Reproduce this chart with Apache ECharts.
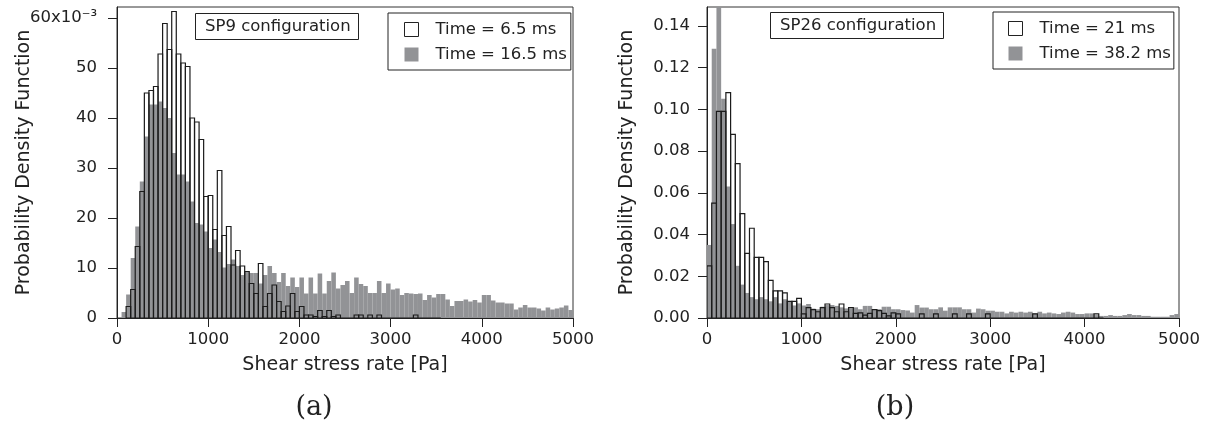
<!DOCTYPE html>
<html>
<head>
<meta charset="utf-8">
<script src="https://cdn.jsdelivr.net/npm/echarts@6/dist/echarts.min.js"></script>
<style>
  html, body { margin: 0; padding: 0; background: #fff; }
  #chart { width: 1207px; height: 430px; }
</style>
</head>
<body>
<div id="chart"></div>
<script>
// histogram bins are 50 Pa wide, starting at 0
const binWidth = 50

// (a) SP9 configuration, PDF values in units of 1e-3
const sp9Early = [ // Time = 6.5 ms
  null, null, 2.3, 5.7, 14.3, 25.3, 45, 45.5, 46.3, 52.8,
  58.9, 53.7, 61.3, 52.8, 51, 50.3, 40, 39.2, 35.7, 24.3,
  24.5, 17.7, 29.5, 16.5, 18.3, 10.6, 13.5, 10.4, 9.3, 6.9,
  4.9, 10.9, 2.3, 4.9, 6.6, 3.3, 1.3, 2.4, 4.9, 1.3,
  2.3, 0.6, 0.6, 0.3, 1.5, 0.3, 1.5, 0.3, 0.6, 0,
  0, 0, 0.6, 0.6, 0, 0.6, 0, 0.6, 0, 0,
  0, 0, 0, 0, 0, 0.6, 0, 0, 0, 0, 0
]
const sp9Late = [ // Time = 16.5 ms
  0, 1.2, 4.7, 12, 18.3, 27.3, 36.3, 42.7, 42.7, 43.3,
  42, 40, 33, 28.7, 28.7, 27.3, 23.3, 19, 18.7, 17.3,
  14, 15.7, 13.2, 10.1, 10.8, 11.7, 10.4, 8.6, 9.2, 9,
  9, 6.9, 8.6, 10.4, 9, 7.2, 9, 6.4, 8.1, 6.2,
  8.1, 4.9, 8.1, 4.9, 8.9, 4.9, 7.4, 9.1, 5.9, 6.6,
  7.4, 5.0, 8.1, 6.8, 6.4, 5.0, 5.0, 7.4, 5.0, 6.9,
  5.7, 5.9, 4.6, 5.0, 4.9, 4.8, 4.9, 3.6, 4.6, 4.1,
  4.8, 4.8, 3.7, 2.4, 3.4, 3.4, 3.7, 3.3, 3.6, 3.1,
  4.6, 4.6, 3.5, 3.1, 3.1, 2.9, 2.9, 1.7, 2.1, 2.6,
  2.1, 2.1, 1.9, 1.5, 2.1, 1.7, 1.9, 2.1, 2.5, 1.6
]

// (b) SP26 configuration
const sp26Early = [ // Time = 21 ms
  0.025, 0.055, 0.099, 0.099, 0.108, 0.088, 0.074, 0.050, 0.031, 0.043,
  0.029, 0.029, 0.027, 0.018, 0.013, 0.013, 0.012, 0.008, 0.008, 0.0094,
  0.002, 0.005, 0.004, 0.003, 0.005, 0.0067, 0.005, 0.003, 0.0067, 0.003,
  0.005, 0.0022, 0.0025, 0.0014, 0.0022, 0.004, 0.0035, 0.0022, 0.001, 0.0025,
  0.002, 0, 0, 0, 0, 0.002, 0, 0, 0.002, 0,
  0, 0, 0.002, 0, 0, 0.002, 0, 0, 0, 0.002,
  0, 0, 0, 0, 0, 0, 0, 0, 0, 0.002,
  0, 0, 0, 0, 0, 0, 0, 0, 0, 0,
  0, 0, 0.002, 0
]
const sp26Late = [ // Time = 38.2 ms
  0.035, 0.129, 0.16, 0.105, 0.063, 0.045, 0.025, 0.016, 0.012, 0.010,
  0.009, 0.010, 0.009, 0.008, 0.010, 0.007, 0.009, 0.008, 0.006, 0.007,
  0.006, 0.0067, 0.0045, 0.0042, 0.0054, 0.0062, 0.0062, 0.0058, 0.0051, 0.0046,
  0.0046, 0.0051, 0.0042, 0.0058, 0.0058, 0.0038, 0.0042, 0.0054, 0.0054, 0.0042,
  0.0042, 0.0038, 0.0036, 0.0026, 0.0062, 0.005, 0.005, 0.0042, 0.0042, 0.0051,
  0.0035, 0.0051, 0.0051, 0.0051, 0.0042, 0.0042, 0.0026, 0.0045, 0.0042, 0.0035,
  0.0035, 0.003, 0.003, 0.0022, 0.003, 0.0026, 0.003, 0.0026, 0.003, 0.0022,
  0.003, 0.0022, 0.0026, 0.0022, 0.0019, 0.0026, 0.003, 0.0026, 0.0019, 0.0019,
  0.0022, 0.0022, 0.0014, 0.001, 0.001, 0.0014, 0.001, 0.001, 0.0014, 0.0019,
  0.0014, 0.0014, 0.001, 0.001, 0.0006, 0.0006, 0.0006, 0.0006, 0.0014, 0.0019
]

const seriesNames = ['Time = 6.5 ms', 'Time = 16.5 ms', 'Time = 21 ms', 'Time = 38.2 ms']
const panelTitles = ['SP9 configuration', 'SP26 configuration']
const panelCaptions = ['(a)', '(b)']

const ink = '#222'
const grayFill = '#929396'
const sans = 'DejaVu Sans'

// turn a list of bin heights into [start, end, value] rows
function toBins(values) {
  const rows = []
  values.forEach((v, i) => {
    if (v !== null) rows.push([i * binWidth, (i + 1) * binWidth, v])
  })
  return rows
}

function binRect(api) {
  const top = api.coord([api.value(0), api.value(2)])
  const base = api.coord([api.value(1), 0])
  return { x: top[0], y: top[1], width: base[0] - top[0], height: base[1] - top[1] }
}

function filledBars(params, api) {
  return { type: 'rect', shape: binRect(api), style: { fill: grayFill } }
}

function outlinedBars(params, api) {
  return { type: 'rect', shape: binRect(api), style: { fill: 'none', stroke: '#1b1b1b', lineWidth: 1.2 } }
}

function histSeries(name, values, idx, outlined) {
  return {
    name: name,
    type: 'custom',
    xAxisIndex: idx,
    yAxisIndex: idx,
    clip: true,
    itemStyle: { color: outlined ? '#fff' : grayFill },
    renderItem: outlined ? outlinedBars : filledBars,
    encode: { x: [0, 1], y: 2 },
    data: toBins(values),
    z: outlined ? 3 : 2
  }
}

function xAxisFor(idx) {
  return {
    gridIndex: idx,
    type: 'value',
    min: 0,
    max: 5000,
    interval: 1000,
    name: 'Shear stress rate [Pa]',
    nameLocation: 'middle',
    nameGap: 38,
    nameMoveOverlap: false,
    nameTextStyle: { fontFamily: sans, fontSize: 19, color: ink },
    axisLine: { onZero: false, lineStyle: { color: ink, width: 1 } },
    axisTick: { length: 9, lineStyle: { color: ink } },
    axisLabel: { margin: 13, fontFamily: sans, fontSize: 16.5, color: ink, formatter: v => String(v) },
    splitLine: { show: false }
  }
}

function yAxisFor(idx, max, interval, gap, margin, formatter) {
  return {
    gridIndex: idx,
    type: 'value',
    min: 0,
    max: max,
    interval: interval,
    name: 'Probability Density Function',
    nameLocation: 'middle',
    nameGap: gap,
    nameMoveOverlap: false,
    nameTextStyle: { fontFamily: sans, fontSize: 19, color: ink },
    axisLine: { show: true, lineStyle: { color: ink, width: 1 } },
    axisTick: { show: true, length: 9, lineStyle: { color: ink } },
    axisLabel: { margin: margin, showMaxLabel: false, fontFamily: sans, fontSize: 16.5, color: ink, formatter: formatter },
    splitLine: { show: false }
  }
}

function legendFor(names, left, top, pad) {
  return {
    orient: 'vertical',
    left: left,
    top: top,
    selectedMode: false,
    borderColor: ink,
    borderWidth: 1,
    padding: pad,
    itemWidth: 14,
    itemHeight: 14,
    itemGap: 8,
    textStyle: { fontFamily: sans, fontSize: 16.5, color: ink, padding: [0, 0, 0, 12] },
    data: [
      { name: names[0], icon: 'rect', itemStyle: { color: '#fff', borderColor: ink, borderWidth: 1 } },
      { name: names[1], icon: 'rect', itemStyle: { color: grayFill, borderWidth: 0 } }
    ]
  }
}

function boxTitle(text, left, top) {
  return {
    text: text,
    left: left,
    top: top,
    borderColor: ink,
    borderWidth: 1,
    padding: [5, 8, 5, 10],
    textStyle: { fontFamily: sans, fontSize: 16.5, fontWeight: 'normal', color: ink }
  }
}

const chart = echarts.init(document.getElementById('chart'), null, { renderer: 'canvas' })

const option = {
  backgroundColor: '#fff',
  animation: false,
  title: [
    boxTitle(panelTitles[0], 195, 13),
    boxTitle(panelTitles[1], 770, 12)
  ],
  legend: [
    legendFor(seriesNames.slice(0, 2), 388, 13, [8, 4, 7, 16]),
    legendFor(seriesNames.slice(2, 4), 993, 12, [8, 3, 7, 15])
  ],
  grid: [
    { left: 117, top: 7, width: 456, height: 311, show: true, borderColor: '#333', borderWidth: 1 },
    { left: 707, top: 7, width: 472, height: 311, show: true, borderColor: '#333', borderWidth: 1 }
  ],
  xAxis: [xAxisFor(0), xAxisFor(1)],
  yAxis: [
    yAxisFor(0, 62.2, 10, 83, 20, v => Math.round(v) === 60 ? '60x10⁻³' : String(Math.round(v))),
    yAxisFor(1, 0.149, 0.02, 70, 17, v => v.toFixed(2))
  ],
  graphic: [
    { type: 'text', x: 314, y: 408, style: { text: panelCaptions[0], align: 'center', verticalAlign: 'middle', font: '27px "DejaVu Serif"', fill: ink } },
    { type: 'text', x: 895, y: 408, style: { text: panelCaptions[1], align: 'center', verticalAlign: 'middle', font: '27px "DejaVu Serif"', fill: ink } }
  ],
  series: [
    histSeries(seriesNames[1], sp9Late, 0, false),
    histSeries(seriesNames[0], sp9Early, 0, true),
    histSeries(seriesNames[3], sp26Late, 1, false),
    histSeries(seriesNames[2], sp26Early, 1, true)
  ]
}

chart.setOption(option)
</script>
</body>
</html>
